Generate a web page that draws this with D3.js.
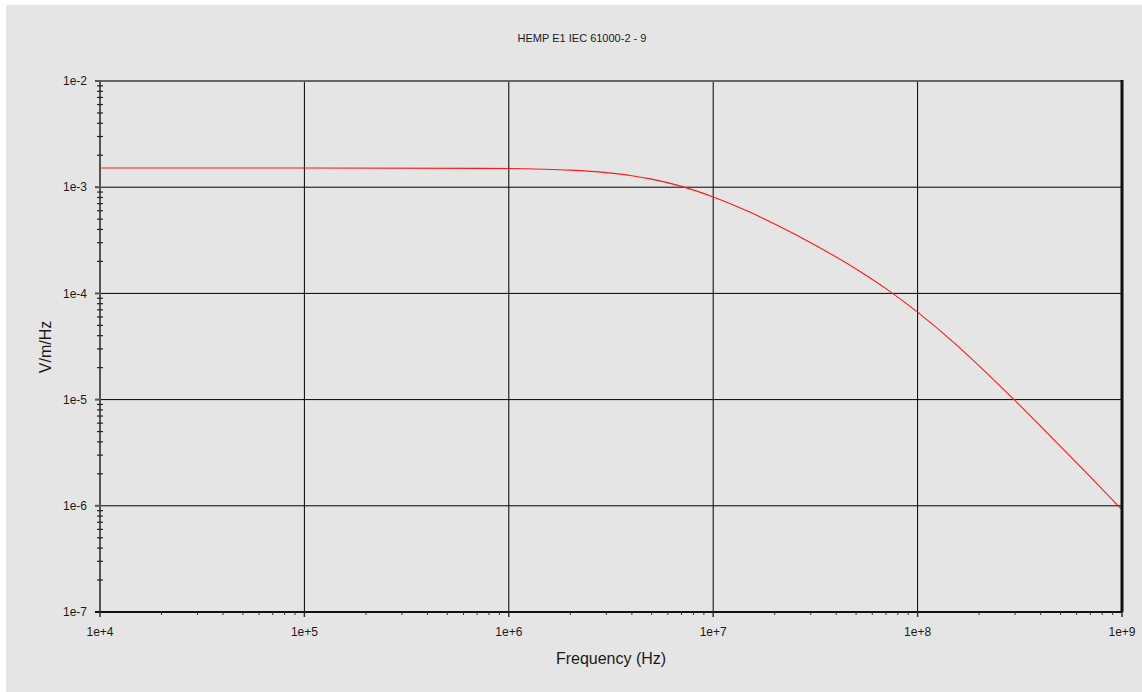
<!DOCTYPE html>
<html>
<head>
<meta charset="utf-8">
<script src="https://cdn.jsdelivr.net/npm/d3@7"></script>
<style>
  body { margin: 0; background: #fff; }
  text { font-family: "Liberation Sans", Arial, sans-serif; fill: #1a1a1a; }
</style>
</head>
<body>
<div id="chart"></div>
<script>
// values (frequency in Hz, field in V/m/Hz)
const freqs = [1e4, 1e5, 1e6, 1.5e6, 2e6, 3e6, 4e6, 5e6, 7e6, 1e7, 1.5e7, 2e7, 3e7, 5e7, 7e7,
  1e8, 1.5e8, 2e8, 3e8, 5e8, 7e8, 1e9];
const field = [1.517e-3, 1.517e-3, 1.50e-3, 1.477e-3, 1.447e-3, 1.371e-3, 1.283e-3, 1.191e-3, 1.018e-3,
  8.10e-4, 5.86e-4, 4.50e-4, 3.0e-4, 1.70e-4, 1.11e-4, 6.66e-5, 3.46e-5, 2.08e-5, 9.76e-6, 3.62e-6,
  1.87e-6, 9.2e-7];
const xTicks = [1e4, 1e5, 1e6, 1e7, 1e8, 1e9];
const yTicks = [1e-7, 1e-6, 1e-5, 1e-4, 1e-3, 1e-2];
const xTickLabels = ['1e+4', '1e+5', '1e+6', '1e+7', '1e+8', '1e+9'];
const yTickLabels = ['1e-7', '1e-6', '1e-5', '1e-4', '1e-3', '1e-2'];
const title = 'HEMP E1 IEC 61000-2 - 9';
const xLabel = 'Frequency (Hz)';
const yLabel = 'V/m/Hz';

const width = 1142;
const height = 692;
const margin = {top: 81, right: 20, bottom: 80, left: 100};

let svg = d3.select('#chart')
  .append('svg')
  .attr('width', width)
  .attr('height', height);

svg.append('rect')
  .attr('x', 6)
  .attr('y', 5)
  .attr('width', width - 6)
  .attr('height', height - 5)
  .attr('fill', '#e5e5e5');

let x = d3.scaleLog()
  .domain([1e4, 1e9])
  .range([margin.left, width - margin.right]);
let y = d3.scaleLog()
  .domain([1e-7, 1e-2])
  .range([height - margin.bottom, margin.top]);

// minor ticks 2..9 within every decade
function minorTicks(lo, hi) {
  let out = [];
  for (let d = lo; d < hi; d *= 10) {
    for (let k = 2; k <= 9; k++) out.push(d * k);
  }
  return out;
}

let grid = svg.append('g').attr('class', 'grid');
grid.selectAll('.vline')
  .data(xTicks.slice(1, -1))
  .enter()
  .append('line')
  .attr('x1', d => x(d))
  .attr('x2', d => x(d))
  .attr('y1', y(1e-2))
  .attr('y2', y(1e-7))
  .attr('stroke', '#000')
  .attr('stroke-width', 1);
grid.selectAll('.hline')
  .data(yTicks.slice(1, -1))
  .enter()
  .append('line')
  .attr('x1', x(1e4))
  .attr('x2', x(1e9))
  .attr('y1', d => y(d))
  .attr('y2', d => y(d))
  .attr('stroke', '#000')
  .attr('stroke-width', 1);

// top frame line
svg.append('line')
  .attr('x1', x(1e4))
  .attr('x2', x(1e9))
  .attr('y1', y(1e-2))
  .attr('y2', y(1e-2))
  .attr('stroke', '#666')
  .attr('stroke-width', 2);

// data curve
let line = d3.line()
  .x((d, i) => x(freqs[i]))
  .y(d => y(d))
  .curve(d3.curveMonotoneX);
svg.append('path')
  .datum(field)
  .attr('d', line)
  .attr('fill', 'none')
  .attr('stroke', '#ff1a1a')
  .attr('stroke-width', 1.1);

// left axis
let left = svg.append('g');
left.append('line')
  .attr('x1', x(1e4))
  .attr('x2', x(1e4))
  .attr('y1', y(1e-2))
  .attr('y2', y(1e-7))
  .attr('stroke', '#555')
  .attr('stroke-width', 2);
left.selectAll('.minor')
  .data(minorTicks(1e-7, 1e-2))
  .enter()
  .append('line')
  .attr('x1', x(1e4) - 3)
  .attr('x2', x(1e4) + 3)
  .attr('y1', d => y(d))
  .attr('y2', d => y(d))
  .attr('stroke', '#222')
  .attr('stroke-width', 1.2);
left.selectAll('.major')
  .data(yTicks)
  .enter()
  .append('line')
  .attr('x1', x(1e4) - 5)
  .attr('x2', x(1e4))
  .attr('y1', d => y(d))
  .attr('y2', d => y(d))
  .attr('stroke', '#555')
  .attr('stroke-width', 2);
left.selectAll('text')
  .data(yTicks)
  .enter()
  .append('text')
  .attr('x', x(1e4) - 13)
  .attr('y', d => y(d))
  .attr('dy', '0.35em')
  .attr('text-anchor', 'end')
  .attr('font-size', 12)
  .text((d, i) => yTickLabels[i]);

// right frame
svg.append('line')
  .attr('x1', x(1e9))
  .attr('x2', x(1e9))
  .attr('y1', y(1e-2) - 1)
  .attr('y2', y(1e-7))
  .attr('stroke', '#111')
  .attr('stroke-width', 3);

// bottom axis
let bottom = svg.append('g');
bottom.append('line')
  .attr('x1', x(1e4) - 5)
  .attr('x2', x(1e9) + 1)
  .attr('y1', y(1e-7))
  .attr('y2', y(1e-7))
  .attr('stroke', '#111')
  .attr('stroke-width', 2);
bottom.selectAll('.minor')
  .data(minorTicks(1e4, 1e9))
  .enter()
  .append('line')
  .attr('x1', d => x(d))
  .attr('x2', d => x(d))
  .attr('y1', y(1e-7))
  .attr('y2', y(1e-7) + 3)
  .attr('stroke', '#333')
  .attr('stroke-width', 1);
bottom.selectAll('.major')
  .data(xTicks)
  .enter()
  .append('line')
  .attr('x1', d => x(d))
  .attr('x2', d => x(d))
  .attr('y1', y(1e-7))
  .attr('y2', y(1e-7) + 5)
  .attr('stroke', '#333')
  .attr('stroke-width', 1.5);
bottom.selectAll('text')
  .data(xTicks)
  .enter()
  .append('text')
  .attr('x', d => x(d))
  .attr('y', y(1e-7) + 20)
  .attr('dy', '0.35em')
  .attr('text-anchor', 'middle')
  .attr('font-size', 12)
  .text((d, i) => xTickLabels[i]);

// titles
svg.append('text')
  .attr('x', 582)
  .attr('y', 42)
  .attr('text-anchor', 'middle')
  .attr('font-size', 11)
  .text(title);
svg.append('text')
  .attr('x', (x(1e4) + x(1e9)) / 2)
  .attr('y', 664)
  .attr('text-anchor', 'middle')
  .attr('font-size', 16)
  .text(xLabel);
svg.append('text')
  .attr('transform', 'translate(51,347) rotate(-90)')
  .attr('text-anchor', 'middle')
  .attr('font-size', 16)
  .text(yLabel);
</script>
</body>
</html>
